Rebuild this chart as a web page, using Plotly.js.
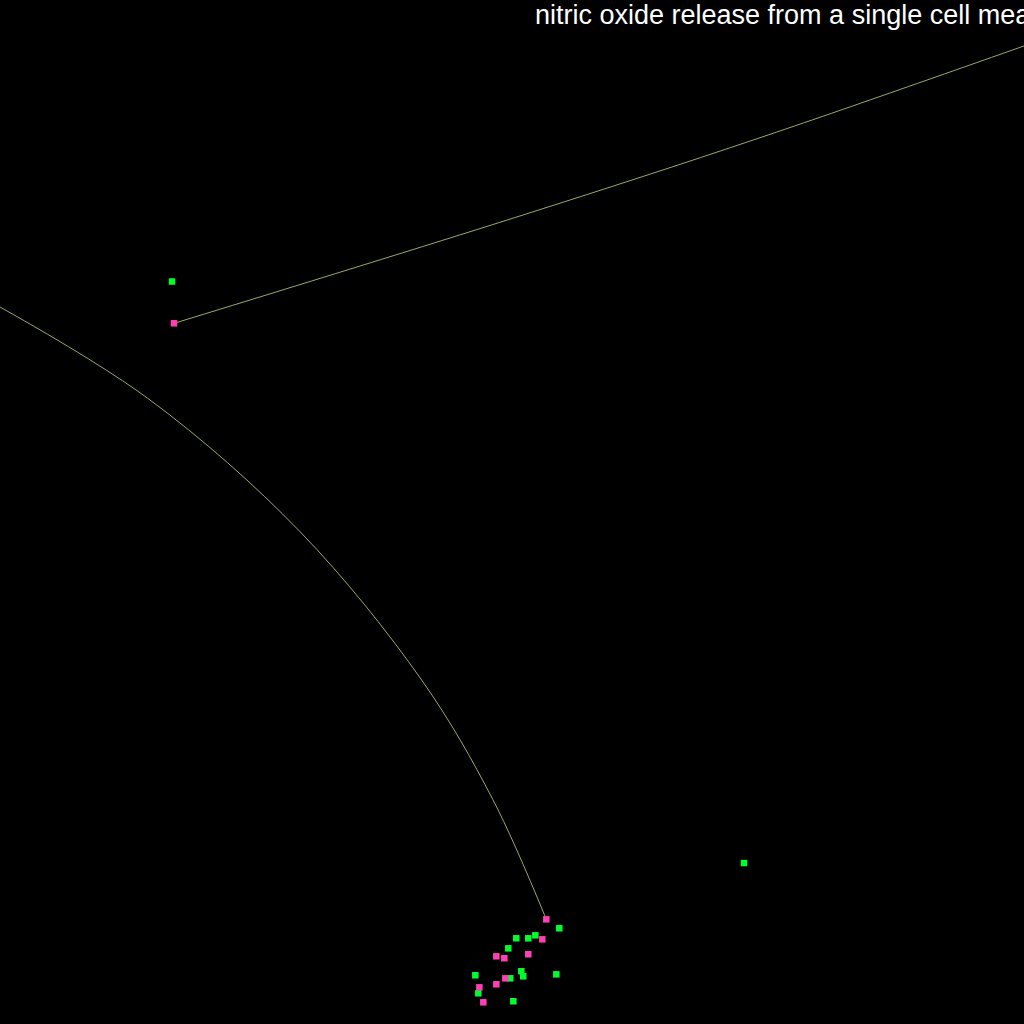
<!DOCTYPE html>
<html>
<head>
<meta charset="utf-8">
<script src="https://cdn.plot.ly/plotly-3.0.1.min.js"></script>
<style>html,body{margin:0;padding:0;background:#000;}#chart{width:1024px;height:1024px;}</style>
</head>
<body>
<div id="chart"></div>
<script>
// Measurement points (arbitrary units)
const pinkX = [16.99, 53.35, 52.96, 51.59, 48.47, 49.25, 49.35, 48.47, 46.81, 47.20];
const pinkY = [68.43, 10.22, 8.27, 6.81, 6.61, 6.42, 4.46, 3.88, 3.58, 2.12];
const greenX = [16.80, 72.66, 54.62, 50.42, 51.59, 52.28, 49.64, 50.91, 51.10, 49.83, 54.33, 46.42, 46.71, 50.13];
const greenY = [72.51, 15.72, 9.35, 8.37, 8.37, 8.66, 7.39, 5.15, 4.66, 4.46, 4.85, 4.76, 3.00, 2.22];
// Fitted curves
const curveAX = [0, 14.65, 29.30, 41.18, 48.12, 53.35];
const curveAY = [70.02, 60.94, 48.08, 33.59, 21.94, 10.22];
const curveBX = [17.02, 50.78, 74.22, 100, 102.54];
const curveBY = [68.43, 78.91, 86.55, 95.51, 96.41];
const titleText = "nitric oxide release from a single cell measurement";

const lineStyle = {color: 'rgb(165,190,115)', width: 0.9, shape: 'spline', smoothing: 1};
const traces = [
  {x: curveAX, y: curveAY, mode: 'lines', line: lineStyle, hoverinfo: 'skip'},
  {x: curveBX, y: curveBY, mode: 'lines', line: lineStyle, hoverinfo: 'skip'},
  {x: greenX, y: greenY, mode: 'markers', marker: {symbol: 'square', size: 6.5, color: '#00ff2a'}},
  {x: pinkX, y: pinkY, mode: 'markers', marker: {symbol: 'square', size: 6.5, color: '#ff40b4'}}
];
const layout = {
  width: 1024, height: 1024,
  paper_bgcolor: '#000', plot_bgcolor: '#000',
  margin: {l: 0, r: 0, t: 0, b: 0, pad: 0},
  showlegend: false,
  title: {text: titleText, x: 535/1024, xref: 'container', xanchor: 'left',
          y: 1 - 5/1024, yref: 'container', yanchor: 'top',
          font: {family: 'Liberation Sans, Arial, sans-serif', size: 27, color: '#ffffff'}},
  xaxis: {range: [0, 100], visible: false, showgrid: false, zeroline: false, fixedrange: true},
  yaxis: {range: [0, 100], visible: false, showgrid: false, zeroline: false, fixedrange: true}
};
Plotly.newPlot('chart', traces, layout, {displayModeBar: false, staticPlot: true});
</script>
</body>
</html>
